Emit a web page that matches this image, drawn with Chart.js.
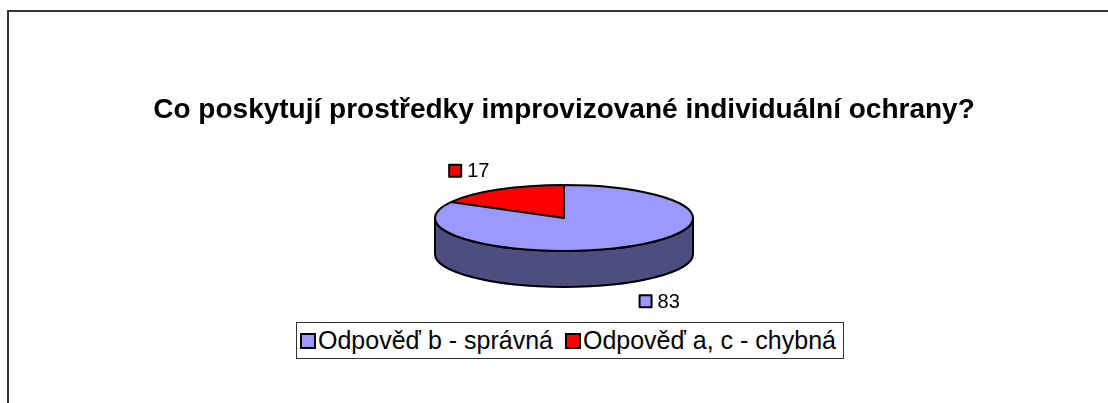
<!DOCTYPE html>
<html>
<head>
<meta charset="utf-8">
<script src="https://cdn.jsdelivr.net/npm/chart.js@4.4.1/dist/chart.umd.min.js"></script>
<style>
  html, body { margin: 0; padding: 0; background: #fff; overflow: hidden; }
  #wrap { position: relative; width: 1108px; height: 403px; overflow: hidden; }
  #frame { position: absolute; left: 7px; top: 10px; width: 1300px; height: 600px; border-left: 2px solid #333; border-top: 2px solid #333; }
  #chart { position: absolute; left: 0; top: 0; }
  #legend { position: absolute; left: 296px; top: 322px; height: 35px; display: flex; align-items: center;
            padding: 0 7px 0 3px; border: 1px solid #333; background: #fff; color: #000;
            font: 25px "Liberation Sans", Arial, sans-serif; white-space: nowrap; }
  #legend .item { display: flex; align-items: center; margin-right: 12px; }
  #legend .item:last-child { margin-right: 0; }
  #legend .sw { width: 12px; height: 12px; border: 2px solid #000; margin-right: 2px; }
</style>
</head>
<body>
<div id="wrap">
  <div id="frame"></div>
  <canvas id="chart" width="1108" height="403"></canvas>
  <div id="legend"></div>
</div>
<script>
const chartTitle = 'Co poskytují prostředky improvizované individuální ochrany?';
const labels = ['Odpověď b - správná', 'Odpověď a, c - chybná'];
const values = [83, 17];
const colors = ['#9999ff', '#ff0000'];
const sideColors = ['#4d4d80', '#800000'];

const tilt = 33 / 129;   // height/width of the pie top
const depth = 36;        // thickness of the 3d pie

// squash the pie and draw the side wall under it
const pie3d = {
  id: 'pie3d',
  beforeDatasetsDraw(chart) {
    const ctx = chart.ctx;
    const arcs = chart.getDatasetMeta(0).data;
    const { x: cx, y: cy, outerRadius: r } = arcs[0];
    const ry = r * tilt;
    ctx.lineWidth = 2;
    ctx.strokeStyle = '#000';
    ctx.lineJoin = 'round';
    arcs.forEach((a, i) => {
      [0, 2 * Math.PI].forEach(off => {
        const s = Math.max(a.startAngle, off);
        const e = Math.min(a.endAngle, off + Math.PI);
        if (s >= e) return;
        ctx.beginPath();
        ctx.ellipse(cx, cy, r, ry, 0, s, e);
        ctx.ellipse(cx, cy + depth, r, ry, 0, e, s, true);
        ctx.closePath();
        ctx.fillStyle = sideColors[i];
        ctx.fill();
        ctx.stroke();
      });
    });
    ctx.save();
    ctx.translate(cx, cy);
    ctx.scale(1, tilt);
    ctx.translate(-cx, -cy);
  },
  afterDatasetsDraw(chart) {
    const ctx = chart.ctx;
    const arcs = chart.getDatasetMeta(0).data;
    ctx.beginPath();
    arcs.forEach(a => {
      ctx.moveTo(a.x, a.y);
      ctx.arc(a.x, a.y, a.outerRadius, a.startAngle, a.endAngle);
      ctx.closePath();
    });
    ctx.restore(); // stroke with an unsquashed line width
    ctx.lineWidth = 2;
    ctx.strokeStyle = '#000';
    ctx.lineJoin = 'round';
    ctx.stroke();
  }
};

// value labels with a small colour key, outside each slice
const sliceLabels = {
  id: 'sliceLabels',
  afterDraw(chart) {
    const ctx = chart.ctx;
    const arcs = chart.getDatasetMeta(0).data;
    ctx.save();
    ctx.font = '20px "Liberation Sans", Arial, sans-serif';
    ctx.textBaseline = 'middle';
    arcs.forEach((a, i) => {
      const m = (a.startAngle + a.endAngle) / 2;
      const ry = a.outerRadius * tilt;
      const lx = a.x + Math.cos(m) * (a.outerRadius + 58);
      let ly = a.y + Math.sin(m) * (ry + 22);
      if (Math.sin(m) > 0) ly += depth;
      const txt = String(values[i]);
      const w = 19 + ctx.measureText(txt).width;
      const x0 = lx - w / 2;
      ctx.fillStyle = colors[i];
      ctx.fillRect(x0 + 1, ly - 6, 12, 12);
      ctx.lineWidth = 2;
      ctx.strokeStyle = '#000';
      ctx.strokeRect(x0 + 1, ly - 6, 12, 12);
      ctx.fillStyle = '#000';
      ctx.fillText(txt, x0 + 19, ly + 1);
    });
    ctx.restore();
  }
};

new Chart(document.getElementById('chart'), {
  type: 'pie',
  data: {
    labels: labels,
    datasets: [{
      data: values,
      backgroundColor: colors,
      borderWidth: 0,
      clip: false
    }]
  },
  options: {
    responsive: false,
    animation: false,
    events: [],
    radius: 129,
    layout: { padding: { left: 20, right: 0, top: 0, bottom: 93.6 } },
    plugins: {
      legend: { display: false },
      tooltip: { enabled: false },
      title: {
        display: true,
        text: chartTitle,
        color: '#000',
        font: { family: '"Liberation Sans", Arial, sans-serif', size: 28, weight: 'bold' },
        padding: { top: 93, bottom: 0 }
      }
    }
  },
  plugins: [pie3d, sliceLabels]
});

// html legend
const legendEl = document.getElementById('legend');
labels.forEach((lab, i) => {
  const item = document.createElement('span');
  item.className = 'item';
  const sw = document.createElement('span');
  sw.className = 'sw';
  sw.style.background = colors[i];
  item.appendChild(sw);
  item.appendChild(document.createTextNode(lab));
  legendEl.appendChild(item);
});
</script>
</body>
</html>
